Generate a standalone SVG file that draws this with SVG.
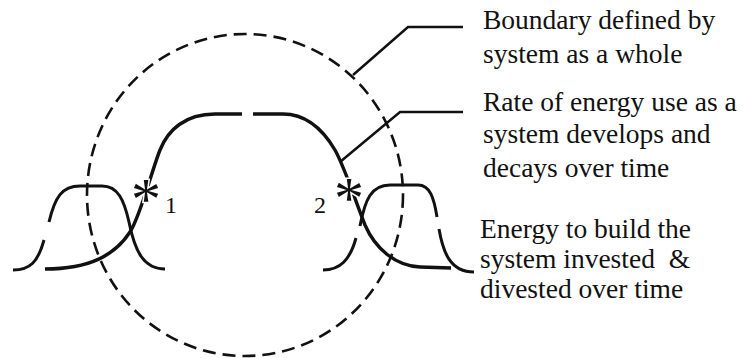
<svg xmlns="http://www.w3.org/2000/svg" width="748" height="358" viewBox="0 0 748 358">
<style>
.bg{fill:#ffffff}
.dash{fill:none;stroke:#111;stroke-width:2.6;stroke-dasharray:13 7}
.curve{fill:none;stroke:#111;stroke-width:3.4;stroke-linecap:butt;stroke-linejoin:round}
.bell{fill:none;stroke:#111;stroke-width:3;stroke-linecap:butt}
.lead{fill:none;stroke:#111;stroke-width:2.5}
text{font-family:'Liberation Serif','Times New Roman',serif;fill:#111}
.lbl{font-size:27.5px}
.num{font-size:24px}
.ast{font-size:60px;text-anchor:middle;stroke:#fff;stroke-width:3px;paint-order:stroke}
</style>
<rect class="bg" x="0" y="0" width="748" height="358"/>
<g id="boundary">
<ellipse class="dash" cx="245" cy="195" rx="158" ry="161"/>
</g>
<g id="bell-left">
<path class="bell" d="M13,270 C30,270 38,262 44,240 M49,222 C55,197 62,186 80,186 L102,186 C118,186 124,200 129,222 C135,252 144,269 165,269"/>
</g>
<g id="bell-right">
<path class="bell" d="M323,270 C340,270 350,260 356,238 M360,226 C365,200 371,185 390,185 L418,185 C430,185 434,198 437,217 M439,229 C443,252 450,272 474,272"/>
</g>
<g id="energy-curve">
<path class="curve" d="M45,269 C90,269 115,255 130,232 C140,217 152,170 160,150 C168,130 185,114 215,114 L242,114 M253,114 L283,114 C305,114 322,128 335,150 C345,168 355,200 365,225 C375,248 395,266 420,267 L451,268"/>
</g>
<g id="connectors">
<polyline class="lead" points="353,75 408,27 463,27"/>
<polyline class="lead" points="340,162 400,112 463,112"/>
</g>
<g id="marker-1">
<text class="ast" x="146" y="219" style="font-size:60px">*</text>
<text class="num" x="165" y="213" style="font-size:24px">1</text>
</g>
<g id="marker-2">
<text class="ast" x="349" y="218" style="font-size:60px">*</text>
<text class="num" x="314" y="213" style="font-size:24px">2</text>
</g>
<g id="label-boundary">
<text class="lbl" x="483" y="29" style="font-size:27.5px">Boundary defined by</text>
<text class="lbl" x="483" y="63" style="font-size:27.5px">system as a whole</text>
</g>
<g id="label-rate">
<text class="lbl" x="483" y="111" style="font-size:27.5px">Rate of energy use as a</text>
<text class="lbl" x="483" y="143" style="font-size:27.5px">system develops and</text>
<text class="lbl" x="483" y="177" style="font-size:27.5px">decays over time</text>
</g>
<g id="label-energy">
<text class="lbl" x="480" y="238" style="font-size:27.5px">Energy to build the</text>
<text class="lbl" x="480" y="268" style="font-size:27.5px;white-space:pre">system invested  &amp;</text>
<text class="lbl" x="480" y="298" style="font-size:27.5px">divested over time</text>
</g>
</svg>
